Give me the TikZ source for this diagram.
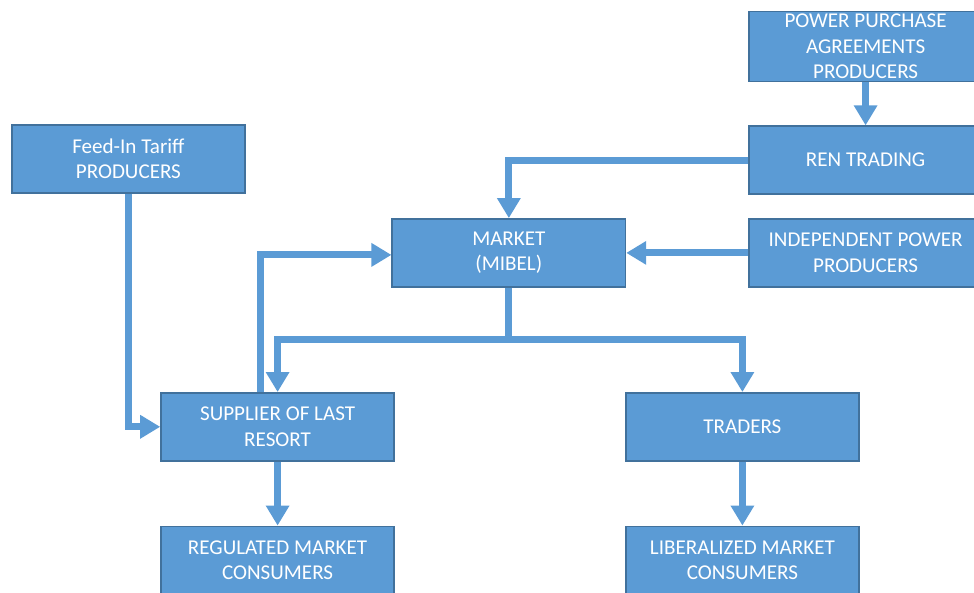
\documentclass[tikz,border=0pt]{standalone}
\usepackage{fontspec}
\setmainfont{Carlito}
\usepackage{tikz}
\usetikzlibrary{
  arrows.meta,
  positioning,
  calc
}
\definecolor{boxblue}{HTML}{5B9BD5}
\definecolor{boxedge}{HTML}{41719C}
\tikzset{
  box/.style={
    rectangle, draw=boxedge, line width=1.1pt, fill=boxblue,
    minimum width=5.83cm, minimum height=1.7cm, inner sep=0pt,
    align=center, text=white, font=\fontsize{15}{18.2}\selectfont
  },
  link/.style={draw=boxblue, line width=5pt},
  flow/.style={link, -{Triangle[width=0.56cm,length=0.5cm]}}
}

\begin{document}
\begin{tikzpicture}

\useasboundingbox (0,0) rectangle (24.35,-14.8);

% ── Top right producers ─────────────────────────────────────────────────────
\node[box, minimum height=1.75cm] (ppa) at (21.64,-1.16)
  {POWER PURCHASE\\AGREEMENTS\\PRODUCERS};
\node[box, below=1.08cm of ppa] (ren) {REN TRADING};
\node[box, below=0.58cm of ren] (indep) {INDEPENDENT POWER\\PRODUCERS};

% ── Market and feed-in ──────────────────────────────────────────────────────
\node[box, left=3.05cm of indep] (market) {MARKET\\(MIBEL)};
\node[box] (feedin) at (3.21,-3.97) {Feed-In Tariff\\PRODUCERS};

% ── Suppliers and consumers ─────────────────────────────────────────────────
\node[box] (supplier) at (6.94,-10.67) {SUPPLIER OF LAST\\RESORT};
\node[box] (traders) at (18.56,-10.67) {TRADERS};
\node[box, below=1.6cm of supplier] (regulated) {REGULATED MARKET\\CONSUMERS};
\node[box, below=1.6cm of traders] (liberal) {LIBERALIZED MARKET\\CONSUMERS};

% ── Connectors ──────────────────────────────────────────────────────────────
\draw[flow] (ppa) -- (ren);
\draw[flow] (ren.west) -| (market.north);
\draw[flow] (indep) -- (market);

\draw[link] (market.south) -- ++(0,-1.3) coordinate (split);
\draw[flow] ([xshift=2.5pt]split) -| (supplier.north);
\draw[flow] ([xshift=-2.5pt]split) -| (traders.north);

\draw[flow] ([xshift=-0.42cm]supplier.north) |- ([yshift=-0.05cm]market.west);
\draw[flow] (feedin.south) |- (supplier.west);

\draw[flow] (supplier) -- (regulated);
\draw[flow] (traders) -- (liberal);

\end{tikzpicture}
\end{document}
